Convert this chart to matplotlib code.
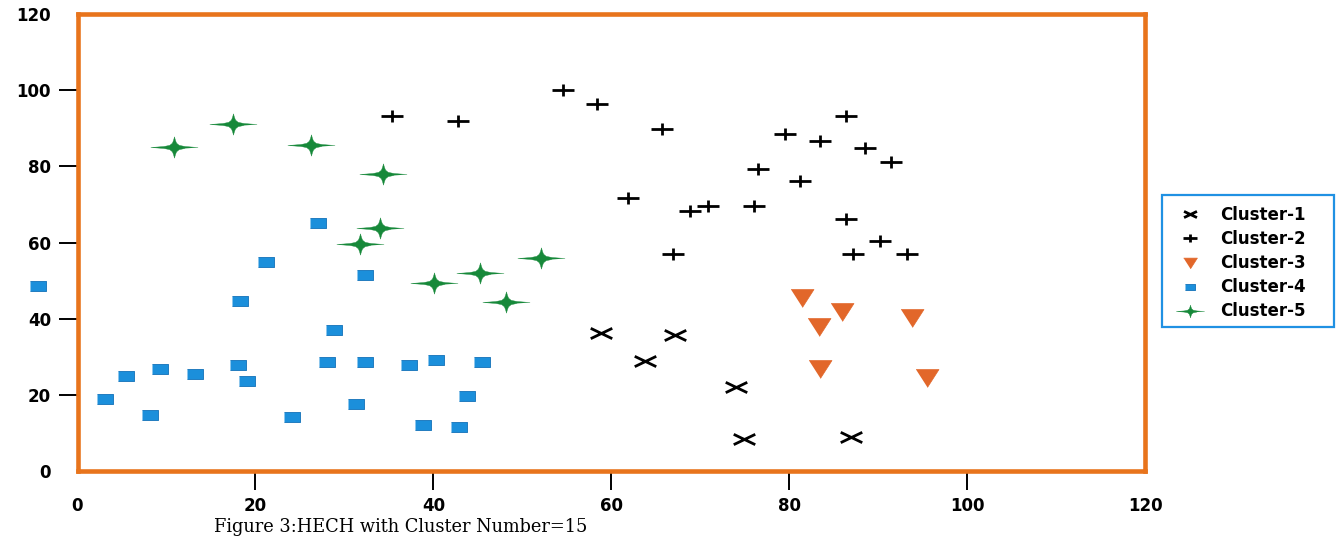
import numpy as np
import matplotlib
matplotlib.use('Agg')
import matplotlib.pyplot as plt
from matplotlib.path import Path
from matplotlib.patches import Rectangle

# cluster data
c1_x = [58.9, 63.8, 67.2, 74.0, 74.9, 86.9]
c1_y = [36.2, 29.0, 35.6, 22.1, 8.4, 8.9]

c2_x = [54.6, 58.4, 35.4, 42.8, 65.7, 79.5, 86.4, 83.5, 88.5, 91.5, 76.5,
        81.2, 61.9, 68.8, 70.9, 76.0, 86.4, 90.2, 66.9, 87.2, 93.3]
c2_y = [100.0, 96.3, 93.1, 91.9, 89.9, 88.4, 93.1, 86.7, 84.9, 81.2, 79.2,
        76.1, 71.6, 68.2, 69.5, 69.5, 66.3, 60.5, 57.1, 57.1, 57.1]

c3_x = [81.4, 85.9, 83.3, 93.8, 83.5, 95.5]
c3_y = [45.5, 41.8, 37.7, 40.3, 26.9, 24.4]

c4_x = [3.1, 5.5, 9.3, 8.2, 13.2, 18.0, 19.1, 18.3, 21.2, 24.1, -4.4, 27.0,
        32.3, 28.8, 28.1, 32.3, 37.3, 40.3, 45.5, 31.3, 43.8, 38.8, 42.9]
c4_y = [18.9, 24.9, 26.9, 14.7, 25.6, 27.9, 23.6, 44.7, 54.8, 14.2, 48.6, 65.0,
        51.4, 36.9, 28.7, 28.7, 27.9, 29.2, 28.7, 17.6, 19.7, 12.1, 11.6]

c5_x = [10.9, 17.5, 26.2, 34.3, 34.0, 31.8, 40.1, 45.2, 52.1, 48.2]
c5_y = [85.2, 91.1, 85.7, 77.9, 63.9, 59.5, 49.4, 52.0, 55.8, 44.4]

labels = ['Cluster-1', 'Cluster-2', 'Cluster-3', 'Cluster-4', 'Cluster-5']
ticks = [0, 20, 40, 60, 80, 100, 120]

orange = '#E8741C'
tri_col = '#E2672A'
sq_col = '#1B8FDB'
green = '#17893A'
leg_blue = '#2091E3'

# marker shapes (image is stretched horizontally)
cross = Path([(-1, -0.48), (1, 0.48), (-1, 0.48), (1, -0.48)],
             [Path.MOVETO, Path.LINETO, Path.MOVETO, Path.LINETO])
plus = Path([(-1, 0), (1, 0), (0, -0.52), (0, 0.52)],
            [Path.MOVETO, Path.LINETO, Path.MOVETO, Path.LINETO])
tri = [(-1, 0.78), (1, 0.78), (0, -0.78)]
rect = [(-1, -0.6), (1, -0.6), (1, 0.6), (-1, 0.6)]
q = [(1, 0), (0.45, 0.04), (0.2, 0.09), (0.09, 0.18), (0.04, 0.3), (0, 0.45)]
star = q + [(-a, b) for a, b in q[::-1]][1:] + [(-a, -b) for a, b in q][1:] + \
       [(a, -b) for a, b in q[::-1]][1:-1]

fig = plt.figure(figsize=(13.37, 5.37), dpi=100)
ax = fig.add_axes([77.5 / 1337, 66 / 537, 1067.5 / 1337, 457 / 537])

h1, = ax.plot(c1_x, c1_y, ls='none', marker=cross, ms=15.5, mfc='none',
              mec='black', mew=2.0, clip_on=False, zorder=3)
h2, = ax.plot(c2_x, c2_y, ls='none', marker=plus, ms=16.5, mfc='none',
              mec='black', mew=2.0, clip_on=False, zorder=3)
h3, = ax.plot(c3_x, c3_y, ls='none', marker=tri, ms=16.5, mfc=tri_col,
              mec=tri_col, mew=0.5, clip_on=False, zorder=3)
h4, = ax.plot(c4_x, c4_y, ls='none', marker=rect, ms=12.2, mfc=sq_col,
              mec='#1170B8', mew=0.6, clip_on=False, zorder=3)
h5, = ax.plot(c5_x, c5_y, ls='none', marker=star, ms=34, mfc=green,
              mec=green, mew=0.3, clip_on=False, zorder=3)

ax.set_xlim(0, 120)
ax.set_ylim(0, 120)
ax.set_xticks(ticks)
ax.set_yticks(ticks)
for s in ax.spines.values():
    s.set_color(orange)
    s.set_linewidth(3.3)
ax.tick_params(direction='out', length=14, width=1.4, color='black', pad=5,
               labelsize=12)
for lab in ax.get_xticklabels() + ax.get_yticklabels():
    lab.set_fontweight('bold')
for t in (ax.xaxis.get_major_ticks()[0], ax.xaxis.get_major_ticks()[-1],
          ax.yaxis.get_major_ticks()[0], ax.yaxis.get_major_ticks()[-1]):
    t.tick1line.set_visible(False)

# legend box
fig.patches.append(Rectangle((1162 / 1337, 1 - 327 / 537), 172 / 1337, 132 / 537,
                             transform=fig.transFigure, fill=False,
                             edgecolor=leg_blue, linewidth=1.6))
fig.legend([h1, h2, h3, h4, h5], labels, loc='upper left',
           bbox_to_anchor=(1160 / 1337, 1 - 193 / 537), frameon=False,
           borderpad=0.3, labelspacing=0.36, handlelength=2.0,
           handletextpad=0.8, markerscale=0.6,
           prop={'weight': 'bold', 'size': 12})

fig.text(0.2996, 1 - 527 / 537, 'Figure 3:HECH with Cluster Number=15',
         family='DejaVu Serif', fontsize=12.8, ha='center', va='center')

fig.savefig('out.png', dpi=100)
